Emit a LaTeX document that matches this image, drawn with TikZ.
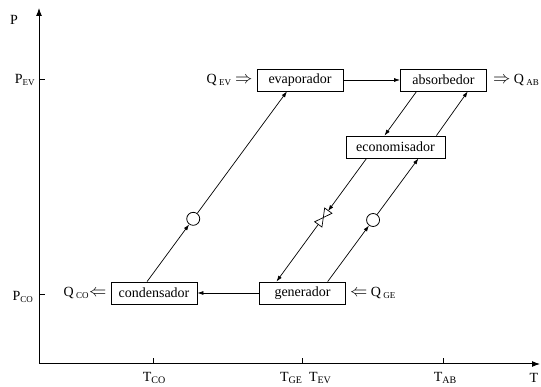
\documentclass[tikz,border=0pt]{standalone}
\usepackage{fontspec}
\setmainfont{Liberation Serif}
\usetikzlibrary{arrows.meta, positioning, calc}
\tikzset{
	bloque/.style={rectangle, draw, line width=0.8pt, minimum width=86pt, minimum height=22pt, inner sep=2pt, font=\fontsize{14}{16}\selectfont},
	bomba/.style={circle, draw, fill=white, line width=0.8pt, minimum size=13pt, inner sep=0pt},
	flecha/.style={draw, line width=0.7pt, -{Latex[length=6pt, width=4pt]}},
	calor/.style={inner sep=1pt, font=\fontsize{14}{16}\selectfont},
	etiqueta/.style={inner sep=0pt, font=\fontsize{14}{16}\selectfont},
	eje/.style={draw, line width=1pt, -{Latex[length=8pt, width=6pt]}},
	pics/valvula/.style={code={\draw[line width=0.7pt, fill=white] (-8.5,-4.5) -- (-8.5,4.5) -- (8.5,-4.5) -- (8.5,4.5) -- cycle;}}
}
\newcommand{\bajo}[1]{\textsubscript{\fontsize{9}{10}\selectfont #1}}
\newcommand{\bajoT}[1]{\raisebox{-1.5pt}{\fontsize{10}{10}\selectfont #1}}
\newcommand{\flechader}{{\fontsize{19}{19}\selectfont$\Rightarrow$}}
\newcommand{\flechaizq}{{\fontsize{19}{19}\selectfont$\Leftarrow$}}

\begin{document}
\begin{tikzpicture}[x=1pt, y=-1pt]
    \useasboundingbox (0,0) rectangle (541,387);
    % Ejes
    \coordinate (origen) at (39,364);
    \coordinate (ejeP) at (39,8);
    \coordinate (ejeT) at (540,364);
    \draw[eje] (origen) -- (ejeP);
    \draw[eje] (origen) -- (ejeT);
    \foreach \x in {153,302,443} \draw[line width=0.8pt] (\x,364) -- (\x,358);
    \foreach \y in {79,294} \draw[line width=0.8pt] (39,\y) -- (45,\y);
    \node[etiqueta] (lP) at (14,20) {P};
    \node[etiqueta] (lPEV) at (25,80) {P\bajo{EV}};
    \node[etiqueta] (lPCO) at (23,297) {P\bajo{CO}};
    \node[etiqueta] (lTCO) at (154,378) {T\bajoT{CO}};
    \node[etiqueta] (lTGE) at (291,378) {T\bajoT{GE}};
    \node[etiqueta] (lTEV) at (320,378) {T\bajoT{EV}};
    \node[etiqueta] (lTAB) at (445,378) {T\bajoT{AB}};
    \node[etiqueta] (lT) at (534,378) {T};
    % Bloques
    \node[bloque] (evaporador) at (300,80) {evaporador};
    \node[bloque] (absorbedor) at (443.5,80) {absorbedor};
    \node[bloque, minimum width=99pt] (economisador) at (395.5,147) {economisador};
    \node[bloque] (condensador) at (154,293) {condensador};
    \node[bloque] (generador) at (302.5,293) {generador};
    % Calores
    \node[calor, left=3pt of evaporador] (qev) {Q\,\bajo{EV} \flechader};
    \node[calor, right=5pt of absorbedor] (qab) {\flechader\ Q\,\bajo{AB}};
    \node[calor, left=3pt of condensador] (qco) {Q\,\bajo{CO}\flechaizq};
    \node[calor, right=3pt of generador] (qge) {\flechaizq\ Q\,\bajo{GE}};
    % Puntos de conexion
    \coordinate (c1) at ($(condensador.north west)!0.42!(condensador.north east)$);
    \coordinate (e1) at ($(evaporador.south west)!0.35!(evaporador.south east)$);
    \coordinate (a1) at ($(absorbedor.south west)!0.19!(absorbedor.south east)$);
    \coordinate (a2) at ($(absorbedor.south west)!0.78!(absorbedor.south east)$);
    \coordinate (k0) at ($(economisador.north west)!0.39!(economisador.north east)$);
    \coordinate (k3) at ($(economisador.north west)!0.91!(economisador.north east)$);
    \coordinate (k1) at ($(economisador.south west)!0.21!(economisador.south east)$);
    \coordinate (k2) at ($(economisador.south west)!0.73!(economisador.south east)$);
    \coordinate (g1) at ($(generador.north west)!0.2!(generador.north east)$);
    \coordinate (g2) at ($(generador.north west)!0.79!(generador.north east)$);
    \node[bomba] (bomba1) at ($(c1)!0.33!(e1)$) {};
    \node[bomba] (bomba2) at ($(g2)!0.5!(k2)$) {};
    \coordinate (valvula) at ($(k1)!0.48!(g1)$);
    % Flechas
    \draw[flecha] (evaporador) -- (absorbedor);
    \draw[flecha] (generador) -- (condensador);
    \draw[flecha] (c1) -- (bomba1);
    \draw[flecha] (bomba1) -- (e1);
    \draw[flecha] (a1) -- (k0);
    \draw[flecha] (k3) -- (a2);
    \draw[flecha, shorten >=8pt] (k1) -- (valvula);
    \draw[flecha, shorten <=8pt] (valvula) -- (g1);
    \pic[rotate=54] at (valvula) {valvula};
    \draw[flecha] (g2) -- (bomba2);
    \draw[flecha] (bomba2) -- (k2);
\end{tikzpicture}
\end{document}
